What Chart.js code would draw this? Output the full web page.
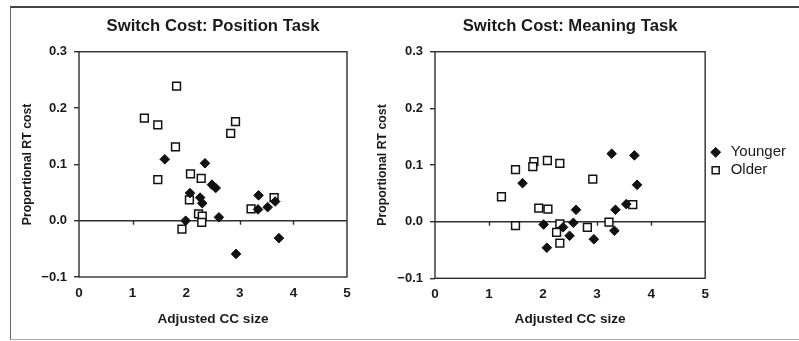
<!DOCTYPE html>
<html>
<head>
<meta charset="utf-8">
<script src="https://cdn.jsdelivr.net/npm/chart.js@4.4.0/dist/chart.umd.min.js"></script>
<style>
  html, body { margin: 0; padding: 0; background: #fff; }
  body { width: 799px; height: 341px; position: relative; overflow: hidden; }
  .frame {
    position: absolute; left: 10px; top: 6px; width: 800px; height: 331px;
    border-left: 1px solid #666; border-top: 2px solid #444; border-bottom: 1px solid #aaa;
  }
  canvas { position: absolute; top: 0; }
  #positionChart { left: 0; }
  #meaningChart { left: 372px; }
</style>
</head>
<body>
<div class="frame"></div>
<canvas id="positionChart" width="372" height="341"></canvas>
<canvas id="meaningChart" width="427" height="341"></canvas>
<script>
// position task
const positionYoungerCC   = [1.60, 2.35, 2.48, 2.55, 2.07, 2.26, 2.30, 1.99, 2.61, 2.93, 3.35, 3.34, 3.52, 3.66, 3.73];
const positionYoungerCost = [0.109, 0.102, 0.064, 0.058, 0.049, 0.041, 0.031, 0.000, 0.006, -0.059, 0.045, 0.020, 0.024, 0.034, -0.031];
const positionOlderCC     = [1.82, 1.22, 1.47, 2.92, 2.83, 1.80, 1.47, 2.08, 2.28, 2.06, 3.21, 3.64, 2.23, 2.30, 2.29, 1.92];
const positionOlderCost   = [0.239, 0.182, 0.170, 0.176, 0.155, 0.131, 0.073, 0.083, 0.075, 0.037, 0.021, 0.041, 0.012, 0.008, -0.003, -0.015];

// meaning task
const meaningYoungerCC    = [3.27, 3.69, 1.62, 3.74, 3.54, 2.61, 3.34, 2.56, 2.01, 2.37, 2.49, 2.94, 3.32, 2.07];
const meaningYoungerCost  = [0.120, 0.117, 0.068, 0.065, 0.031, 0.021, 0.021, -0.002, -0.005, -0.010, -0.025, -0.031, -0.016, -0.046];
const meaningOlderCC      = [1.49, 1.83, 1.81, 2.08, 2.31, 2.92, 1.23, 1.92, 2.09, 3.66, 1.49, 2.31, 2.25, 2.31, 2.82, 3.22];
const meaningOlderCost    = [0.092, 0.106, 0.097, 0.108, 0.103, 0.075, 0.044, 0.024, 0.022, 0.030, -0.007, -0.004, -0.019, -0.038, -0.010, -0.001];

const groupLabels = ['Younger', 'Older'];
const xTicks = { min: 0, max: 5, step: 1 };
const yTicks = { min: -0.1, max: 0.3, step: 0.1 };

const FONT = "'Liberation Sans', Arial, Helvetica, sans-serif";
const INK = '#1a1a1a';
const LINE = '#2e2e2e';

const toPoints = (xs, ys) => xs.map((x, i) => ({ x, y: ys[i] }));

// box round the plot area plus little ticks hanging off the zero line
const plotFrame = {
    id: 'plotFrame',
    beforeDatasetsDraw(chart) {
        const { ctx, chartArea: a, scales: { x, y } } = chart;
        ctx.save();
        ctx.strokeStyle = LINE;
        ctx.lineWidth = 1.4;
        ctx.strokeRect(a.left, a.top, a.right - a.left, a.bottom - a.top);
        const y0 = y.getPixelForValue(0);
        ctx.beginPath();
        x.ticks.forEach(t => {
            if (t.value <= x.min || t.value >= x.max) return;
            const px = Math.round(x.getPixelForValue(t.value)) + 0.5;
            ctx.moveTo(px, y0);
            ctx.lineTo(px, y0 + 4);
        });
        ctx.stroke();
        ctx.restore();
    }
};

const makeScatter = (canvasId, cfg) => {
    const ctx = document.getElementById(canvasId).getContext('2d');
    return new Chart(ctx, {
        type: 'scatter',
        data: {
            datasets: [{
                label: groupLabels[0],
                data: toPoints(cfg.youngerX, cfg.youngerY),
                pointStyle: 'rectRot',
                pointRadius: 4.8,
                pointHoverRadius: 4.8,
                backgroundColor: '#111',
                borderColor: '#111',
                borderWidth: 1
            }, {
                label: groupLabels[1],
                data: toPoints(cfg.olderX, cfg.olderY),
                pointStyle: 'rect',
                pointRadius: 5.5,
                pointHoverRadius: 5.5,
                backgroundColor: '#fff',
                borderColor: '#111',
                borderWidth: 1.5
            }]
        },
        options: {
            responsive: false,
            animation: false,
            events: [],
            layout: { padding: cfg.padding },
            scales: {
                x: {
                    type: 'linear',
                    min: xTicks.min,
                    max: xTicks.max,
                    ticks: {
                        stepSize: xTicks.step,
                        color: INK,
                        padding: 8,
                        font: { family: FONT, size: 13.5, weight: 'bold' }
                    },
                    grid: { display: false, drawTicks: false },
                    border: { display: false },
                    title: {
                        display: true,
                        text: 'Adjusted CC size',
                        color: INK,
                        font: { family: FONT, size: 13.6, weight: 'bold' },
                        padding: { top: 0, bottom: cfg.xTitlePad }
                    },
                    afterFit: s => { s.height = cfg.xHeight; }
                },
                y: {
                    min: yTicks.min,
                    max: yTicks.max,
                    ticks: {
                        stepSize: yTicks.step,
                        color: INK,
                        padding: 7,
                        font: { family: FONT, size: 13, weight: 'bold' },
                        callback: v => (v < -1e-9 ? '\u2212' : '') + Math.abs(v).toFixed(1)
                    },
                    grid: {
                        color: c => (c.tick && Math.abs(c.tick.value) < 1e-9 ? LINE : 'rgba(0,0,0,0)'),
                        tickColor: LINE,
                        tickLength: 5,
                        lineWidth: 1.4
                    },
                    border: { display: false },
                    title: {
                        display: true,
                        text: 'Proportional RT cost',
                        color: INK,
                        font: { family: FONT, size: 12.3, weight: 'bold' },
                        padding: { top: cfg.yTitlePad, bottom: 0 }
                    },
                    afterFit: s => { s.width = cfg.yWidth; }
                }
            },
            plugins: {
                title: {
                    display: true,
                    text: cfg.title,
                    color: INK,
                    fullSize: false,
                    font: { family: FONT, size: 16.7, weight: 'bold' },
                    padding: { top: 16, bottom: 15.7 }
                },
                legend: cfg.legend,
                tooltip: { enabled: false }
            }
        },
        plugins: [plotFrame]
    });
};

makeScatter('positionChart', {
    title: 'Switch Cost: Position Task',
    youngerX: positionYoungerCC, youngerY: positionYoungerCost,
    olderX: positionOlderCC, olderY: positionOlderCost,
    padding: { left: 0, right: 25, top: 0, bottom: 0 },
    yWidth: 79, yTitlePad: 20.6,
    xHeight: 64, xTitlePad: 13.8,
    legend: { display: false }
});

makeScatter('meaningChart', {
    title: 'Switch Cost: Meaning Task',
    youngerX: meaningYoungerCC, youngerY: meaningYoungerCost,
    olderX: meaningOlderCC, olderY: meaningOlderCost,
    padding: { left: 0, right: 3, top: 0, bottom: 18.4 },
    yWidth: 63, yTitlePad: 3.6,
    xHeight: 44.3, xTitlePad: -4.5,
    legend: {
        display: true,
        position: 'right',
        fullSize: true,
        labels: {
            usePointStyle: true,
            boxHeight: 7,
            padding: 3,
            color: INK,
            font: { family: FONT, size: 15 }
        }
    }
});
</script>
</body>
</html>
